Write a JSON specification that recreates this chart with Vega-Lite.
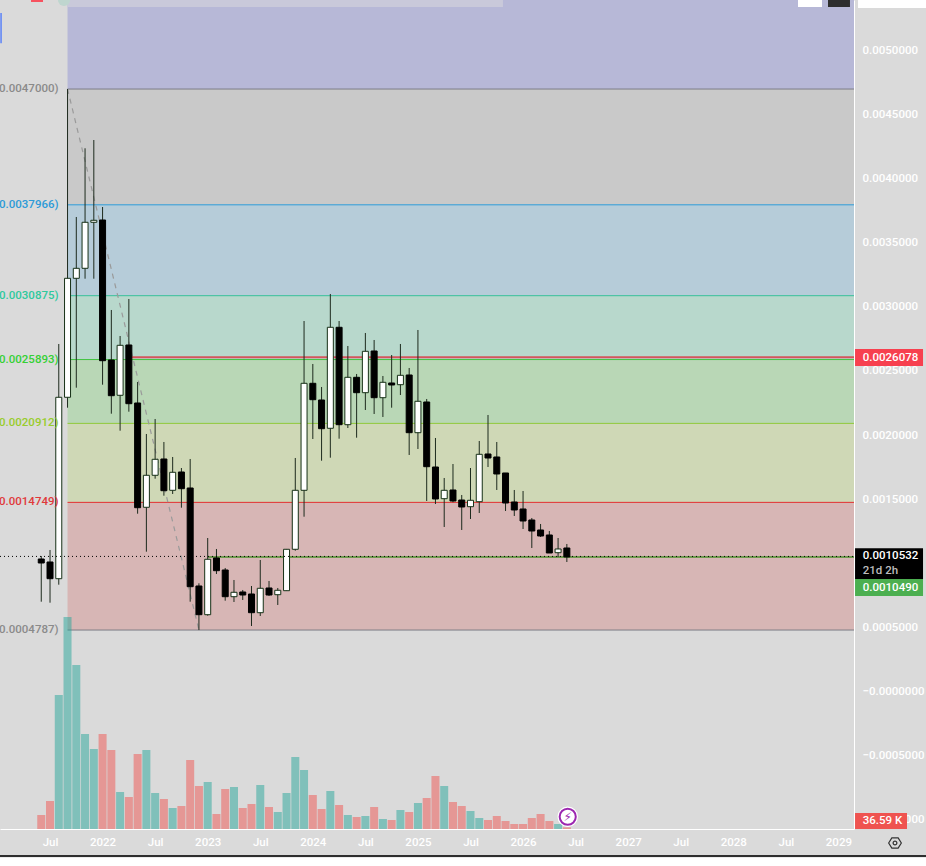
{"$schema":"https://vega.github.io/schema/vega-lite/v6.json","autosize":{"type":"none"},"width":854,"height":829,"padding":{"left":0,"top":0,"right":72,"bottom":37},"background":"#dadada","config":{"view":{"stroke":null},"text":{"font":"Roboto"},"axis":{"labelFont":"Roboto"}},
"datasets":{
"candles":[
{"month":"2021-06","t":-1,"open":0.0010331,"high":0.0010565,"low":0.0006999,"close":0.0010019,"dir":"down","volume":301000},
{"month":"2021-07","t":0,"open":0.0010097,"high":0.0011033,"low":0.0006921,"close":0.0008794,"dir":"down","volume":602000},
{"month":"2021-08","t":1,"open":0.0008794,"high":0.0027107,"low":0.0008326,"close":0.0022948,"dir":"up","volume":2881000},
{"month":"2021-09","t":2,"open":0.0022948,"high":0.0047000,"low":0.0022136,"close":0.0032233,"dir":"up","volume":4558000},
{"month":"2021-10","t":3,"open":0.0032233,"high":0.0037016,"low":0.0023697,"close":0.0033013,"dir":"up","volume":3526000},
{"month":"2021-11","t":4,"open":0.0033013,"high":0.0042377,"low":0.0032202,"close":0.0036603,"dir":"up","volume":2042500},
{"month":"2021-12","t":5,"open":0.0036603,"high":0.0043024,"low":0.0032202,"close":0.0036759,"dir":"up","volume":1720000},
{"month":"2022-01","t":6,"open":0.0036782,"high":0.0037796,"low":0.0023931,"close":0.0025804,"dir":"down","volume":2042500},
{"month":"2022-02","t":7,"open":0.0025858,"high":0.0029760,"low":0.0021668,"close":0.0023073,"dir":"down","volume":1698500},
{"month":"2022-03","t":8,"open":0.0023104,"high":0.0027731,"low":0.0020342,"close":0.0027005,"dir":"up","volume":795500},
{"month":"2022-04","t":9,"open":0.0027029,"high":0.0030618,"low":0.0021824,"close":0.0022449,"dir":"down","volume":688000},
{"month":"2022-05","t":10,"open":0.0022503,"high":0.0024142,"low":0.0013866,"close":0.0014334,"dir":"down","volume":1612500},
{"month":"2022-06","t":11,"open":0.0014365,"high":0.0020084,"low":0.0010901,"close":0.0016862,"dir":"up","volume":1698500},
{"month":"2022-07","t":12,"open":0.0016862,"high":0.0021255,"low":0.0016596,"close":0.0018110,"dir":"up","volume":774000},
{"month":"2022-08","t":13,"open":0.0018134,"high":0.0019460,"low":0.0015270,"close":0.0015660,"dir":"down","volume":645000},
{"month":"2022-09","t":14,"open":0.0015691,"high":0.0018290,"low":0.0015403,"close":0.0017096,"dir":"up","volume":451500},
{"month":"2022-10","t":15,"open":0.0017119,"high":0.0017431,"low":0.0014334,"close":0.0015816,"dir":"down","volume":494500},
{"month":"2022-11","t":16,"open":0.0015871,"high":0.0018134,"low":0.0006999,"close":0.0008170,"dir":"down","volume":1483500},
{"month":"2022-12","t":17,"open":0.0008224,"high":0.0008435,"low":0.0004787,"close":0.0005985,"dir":"down","volume":924500},
{"month":"2023-01","t":18,"open":0.0005985,"high":0.0011969,"low":0.0005907,"close":0.0010308,"dir":"up","volume":1010500},
{"month":"2023-02","t":19,"open":0.0010409,"high":0.0011111,"low":0.0009161,"close":0.0009418,"dir":"down","volume":322500},
{"month":"2023-03","t":20,"open":0.0009473,"high":0.0009629,"low":0.0007077,"close":0.0007389,"dir":"down","volume":860000},
{"month":"2023-04","t":21,"open":0.0007389,"high":0.0008692,"low":0.0006976,"close":0.0007733,"dir":"up","volume":903000},
{"month":"2023-05","t":22,"open":0.0007756,"high":0.0007912,"low":0.0007132,"close":0.0007522,"dir":"down","volume":451500},
{"month":"2023-06","t":23,"open":0.0007600,"high":0.0008224,"low":0.0005103,"close":0.0006141,"dir":"down","volume":537500},
{"month":"2023-07","t":24,"open":0.0006141,"high":0.0010253,"low":0.0005883,"close":0.0008045,"dir":"up","volume":946000},
{"month":"2023-08","t":25,"open":0.0008068,"high":0.0008614,"low":0.0007444,"close":0.0007522,"dir":"down","volume":473000},
{"month":"2023-09","t":26,"open":0.0007545,"high":0.0008068,"low":0.0006742,"close":0.0007889,"dir":"up","volume":365500},
{"month":"2023-10","t":27,"open":0.0007857,"high":0.0011111,"low":0.0007834,"close":0.0011088,"dir":"up","volume":774000},
{"month":"2023-11","t":28,"open":0.0011088,"high":0.0018212,"low":0.0010979,"close":0.0015691,"dir":"up","volume":1548000},
{"month":"2023-12","t":29,"open":0.0015691,"high":0.0028901,"low":0.0013632,"close":0.0024040,"dir":"up","volume":1268500},
{"month":"2024-01","t":30,"open":0.0024040,"high":0.0025546,"low":0.0019694,"close":0.0022761,"dir":"down","volume":731000},
{"month":"2024-02","t":31,"open":0.0022737,"high":0.0023752,"low":0.0018001,"close":0.0020498,"dir":"down","volume":430000},
{"month":"2024-03","t":32,"open":0.0020529,"high":0.0031008,"low":0.0018235,"close":0.0028410,"dir":"up","volume":817000},
{"month":"2024-04","t":33,"open":0.0028410,"high":0.0028901,"low":0.0019718,"close":0.0020810,"dir":"down","volume":516000},
{"month":"2024-05","t":34,"open":0.0020810,"high":0.0026951,"low":0.0020552,"close":0.0024508,"dir":"up","volume":301000},
{"month":"2024-06","t":35,"open":0.0024508,"high":0.0024766,"low":0.0019796,"close":0.0023307,"dir":"down","volume":258000},
{"month":"2024-07","t":36,"open":0.0023307,"high":0.0027965,"low":0.0021957,"close":0.0026537,"dir":"up","volume":279500},
{"month":"2024-08","t":37,"open":0.0026561,"high":0.0027419,"low":0.0021645,"close":0.0022917,"dir":"down","volume":473000},
{"month":"2024-09","t":38,"open":0.0022917,"high":0.0024610,"low":0.0021411,"close":0.0024118,"dir":"up","volume":215000},
{"month":"2024-10","t":39,"open":0.0024064,"high":0.0026248,"low":0.0022136,"close":0.0023908,"dir":"down","volume":193500},
{"month":"2024-11","t":40,"open":0.0023931,"high":0.0027107,"low":0.0023127,"close":0.0024664,"dir":"up","volume":408500},
{"month":"2024-12","t":41,"open":0.0024688,"high":0.0025234,"low":0.0018446,"close":0.0020186,"dir":"down","volume":365500},
{"month":"2025-01","t":42,"open":0.0020186,"high":0.0028199,"low":0.0018914,"close":0.0022636,"dir":"up","volume":559000},
{"month":"2025-02","t":43,"open":0.0022581,"high":0.0022815,"low":0.0014856,"close":0.0017533,"dir":"down","volume":666500},
{"month":"2025-03","t":44,"open":0.0017509,"high":0.0019772,"low":0.0014622,"close":0.0015013,"dir":"down","volume":1139500},
{"month":"2025-04","t":45,"open":0.0015036,"high":0.0016651,"low":0.0012828,"close":0.0015691,"dir":"up","volume":924500},
{"month":"2025-05","t":46,"open":0.0015715,"high":0.0017743,"low":0.0014755,"close":0.0014856,"dir":"down","volume":580500},
{"month":"2025-06","t":47,"open":0.0014934,"high":0.0015325,"low":0.0012594,"close":0.0014388,"dir":"down","volume":494500},
{"month":"2025-07","t":48,"open":0.0014412,"high":0.0017431,"low":0.0013452,"close":0.0014911,"dir":"up","volume":387000},
{"month":"2025-08","t":49,"open":0.0014802,"high":0.0019538,"low":0.0013920,"close":0.0018500,"dir":"up","volume":236500},
{"month":"2025-09","t":50,"open":0.0018524,"high":0.0021567,"low":0.0017509,"close":0.0018212,"dir":"down","volume":193500},
{"month":"2025-10","t":51,"open":0.0018290,"high":0.0019460,"low":0.0015715,"close":0.0016963,"dir":"down","volume":279500},
{"month":"2025-11","t":52,"open":0.0017041,"high":0.0017041,"low":0.0014076,"close":0.0014700,"dir":"down","volume":172000},
{"month":"2025-12","t":53,"open":0.0014778,"high":0.0015715,"low":0.0013686,"close":0.0014154,"dir":"down","volume":107500},
{"month":"2026-01","t":54,"open":0.0014232,"high":0.0015637,"low":0.0012672,"close":0.0013296,"dir":"down","volume":107500},
{"month":"2026-02","t":55,"open":0.0013374,"high":0.0013530,"low":0.0011189,"close":0.0012516,"dir":"down","volume":236500},
{"month":"2026-03","t":56,"open":0.0012594,"high":0.0013062,"low":0.0012048,"close":0.0012126,"dir":"down","volume":322500},
{"month":"2026-04","t":57,"open":0.0012204,"high":0.0012516,"low":0.0010799,"close":0.0010799,"dir":"down","volume":172000},
{"month":"2026-05","t":58,"open":0.0010822,"high":0.0011969,"low":0.0010487,"close":0.0011111,"dir":"up","volume":107500},
{"month":"2026-06","t":59,"open":0.0011189,"high":0.0011501,"low":0.0010097,"close":0.0010490,"dir":"down","volume":36590}
],
"zones":[
{"level":"0.0047000)","top":0.0053948,"bottom":0.0047000,"t0":2,"t1":91.78},
{"level":"0.0037966)","top":0.0047000,"bottom":0.0037966,"t0":2,"t1":91.78},
{"level":"0.0030875)","top":0.0037966,"bottom":0.0030875,"t0":2,"t1":91.78},
{"level":"0.0025893)","top":0.0030875,"bottom":0.0025893,"t0":2,"t1":91.78},
{"level":"0.0020912)","top":0.0025893,"bottom":0.0020912,"t0":2,"t1":91.78},
{"level":"0.0014749)","top":0.0020912,"bottom":0.0014749,"t0":2,"t1":91.78},
{"level":"0.0004787)","top":0.0014749,"bottom":0.0004787,"t0":2,"t1":91.78}
],
"levels":[
{"level":"0.0047000)","price":0.0047000,"t0":2,"t1":91.78},
{"level":"0.0037966)","price":0.0037966,"t0":2,"t1":91.78},
{"level":"0.0030875)","price":0.0030875,"t0":2,"t1":91.78},
{"level":"0.0025893)","price":0.0025893,"t0":2,"t1":91.78},
{"level":"0.0020912)","price":0.0020912,"t0":2,"t1":91.78},
{"level":"0.0014749)","price":0.0014749,"t0":2,"t1":91.78},
{"level":"0.0004787)","price":0.0004787,"t0":2,"t1":91.78}
],
"tags":[
{"name":"high","top":0.0026717,"bottom":0.0025390,"t0":91.9,"t1":99.66},
{"name":"last","top":0.0011166,"bottom":0.0008770,"t0":91.9,"t1":99.66},
{"name":"bid","top":0.0008770,"bottom":0.0007444,"t0":91.9,"t1":99.66},
{"name":"vol","top":-0.0009488,"bottom":-0.0010737,"t0":91.9,"t1":97.83}
],
"tagText":[
{"name":"white","label":"0.0026078","price":0.0026053,"t":92.78},
{"name":"white","label":"0.0010532","price":0.0010532,"t":92.78},
{"name":"grey","label":"21d 2h","price":0.0009395,"t":92.78},
{"name":"white","label":"0.0010490","price":0.0008092,"t":92.78},
{"name":"white","label":"36.59 K","price":-0.0010112,"t":92.78}
],
"decor":[
{"name":"strip","top":0.0053948,"bottom":0.0053402,"t0":1.94,"t1":51.71},
{"name":"btnA","top":0.0053948,"bottom":0.0053402,"t0":85.39,"t1":88.13},
{"name":"btnB","top":0.0053948,"bottom":0.0053402,"t0":88.81,"t1":91.32},
{"name":"btnA","top":0.0053948,"bottom":0.0053324,"t0":92.24,"t1":100},
{"name":"red","top":0.0053948,"bottom":0.0053792,"t0":-2.17,"t1":-0.8},
{"name":"bar","top":-0.0012765,"bottom":-0.0012945,"t0":-6,"t1":100},
{"name":"btnA","top":-0.0012945,"bottom":-0.0014000,"t0":-6,"t1":100}
]
},
"layer":[
{"resolve":{"scale":{"fill":"independent","stroke":"independent","color":"independent"},"axis":{"x":"independent","y":"independent"}},
"layer":[
{"data":{"name":"zones"},"mark":{"type":"rect"},"encoding":{
"x":{"field":"t0","type":"quantitative","scale":{"domain":[-5.71,91.78],"nice":false,"zero":false,"padding":0},"axis":{"title":null,"orient":"bottom","values":[0,6,12,18,24,30,36,42,48,54,60,66,72,78,84,90],"labelExpr":"datum.value % 12 == 0 ? 'Jul' : format(2022 + (datum.value - 6) / 12, 'd')","grid":false,"ticks":false,"domain":true,"domainColor":"#ffffff","domainWidth":1,"labelColor":"#ffffff","labelFontSize":11.5,"labelFontWeight":500,"labelPadding":7,"labelFlush":false,"labelOverlap":false}},
"x2":{"field":"t1"},
"y":{"field":"top","type":"quantitative","scale":{"domain":[-0.0010737,0.0053948],"nice":false,"zero":false},"axis":{"title":null,"orient":"right","values":[0.005,0.0045,0.004,0.0035,0.003,0.0025,0.002,0.0015,0.0005,0,-0.0005,-0.001],"labelExpr":"(datum.value <= 0 ? '\u2212' : '') + format(abs(datum.value), '.7f')","grid":false,"ticks":false,"domain":true,"domainColor":"#ffffff","domainWidth":1,"labelColor":"#ffffff","labelFontSize":11.5,"labelFontWeight":500,"labelPadding":8,"labelAlign":"left","labelOverlap":false,"labelFlush":false}},
"y2":{"field":"bottom"},
"fill":{"field":"level","type":"nominal","legend":null,"scale":{"domain":["0.0047000)","0.0037966)","0.0030875)","0.0025893)","0.0020912)","0.0014749)","0.0004787)"],"range":["#b7b8d7","#c9c9c9","#b6ccd9","#b8d8cc","#b9d7b6","#cfd8b6","#d7b6b5"]}}
}},
{"data":{"name":"levels"},"mark":{"type":"rule","strokeWidth":1},"encoding":{
"x":{"field":"t0","type":"quantitative","axis":null,"scale":{"domain":[-5.71,91.78],"nice":false,"zero":false,"padding":0}},"x2":{"field":"t1"},
"y":{"field":"price","type":"quantitative","axis":null,"scale":{"domain":[-0.0010737,0.0053948],"nice":false,"zero":false}},
"stroke":{"field":"level","type":"nominal","legend":null,"scale":{"domain":["0.0047000)","0.0037966)","0.0030875)","0.0025893)","0.0020912)","0.0014749)","0.0004787)"],"range":["#7d7d85","#2d9bd8","#36bf9b","#3fc43f","#90c93a","#e3302f","#7d7d85"]}}
}},
{"data":{"values":[{"price":0.0047,"t":2},{"price":0.0004787,"t":17}]},"mark":{"type":"line","stroke":"#9a9a9a","strokeWidth":1.2,"strokeDash":[5,5]},"encoding":{
"x":{"field":"t","type":"quantitative","axis":null,"scale":{"domain":[-5.71,91.78],"nice":false,"zero":false,"padding":0}},
"y":{"field":"price","type":"quantitative","axis":null,"scale":{"domain":[-0.0010737,0.0053948],"nice":false,"zero":false}}
}},
{"data":{"values":[{"name":"resistance","price":0.0026078,"t0":9,"t1":91.78},{"name":"bid","price":0.001049,"t0":18,"t1":91.78}]},"mark":{"type":"rule","strokeWidth":2},"encoding":{
"x":{"field":"t0","type":"quantitative","axis":null,"scale":{"domain":[-5.71,91.78],"nice":false,"zero":false,"padding":0}},"x2":{"field":"t1"},
"y":{"field":"price","type":"quantitative","axis":null,"scale":{"domain":[-0.0010737,0.0053948],"nice":false,"zero":false}},
"stroke":{"field":"name","type":"nominal","legend":null,"scale":{"domain":["resistance","bid"],"range":["#d4555c","#6f9a4f"]}}
}},
{"data":{"name":"candles"},"mark":{"type":"rule","stroke":"#1d2a1d","strokeWidth":1},"encoding":{
"x":{"field":"t","type":"quantitative","axis":null,"scale":{"domain":[-5.71,91.78],"nice":false,"zero":false,"padding":0}},
"y":{"field":"low","type":"quantitative","axis":null,"scale":{"domain":[-0.0010737,0.0053948],"nice":false,"zero":false}},
"y2":{"field":"high"}
}},
{"data":{"name":"candles"},"mark":{"type":"bar","size":6,"strokeWidth":1,"orient":"vertical"},"encoding":{
"x":{"field":"t","type":"quantitative","axis":null,"scale":{"domain":[-5.71,91.78],"nice":false,"zero":false,"padding":0}},
"y":{"field":"open","type":"quantitative","axis":null,"scale":{"domain":[-0.0010737,0.0053948],"nice":false,"zero":false}},
"y2":{"field":"close"},
"fill":{"field":"dir","type":"nominal","legend":null,"scale":{"domain":["up","down"],"range":["#ffffff","#000000"]}},
"stroke":{"field":"dir","type":"nominal","legend":null,"scale":{"domain":["up","down"],"range":["#163016","#000000"]}}
}},
{"data":{"values":[{"price":0.0010532,"t0":-5.71,"t1":91.78}]},"mark":{"type":"rule","stroke":"#000000","strokeWidth":1,"strokeDash":[1,3]},"encoding":{
"x":{"field":"t0","type":"quantitative","axis":null,"scale":{"domain":[-5.71,91.78],"nice":false,"zero":false,"padding":0}},"x2":{"field":"t1"},
"y":{"field":"price","type":"quantitative","axis":null,"scale":{"domain":[-0.0010737,0.0053948],"nice":false,"zero":false}}
}},
{"data":{"name":"tags"},"mark":{"type":"rect"},"encoding":{
"x":{"field":"t0","type":"quantitative","axis":null,"scale":{"domain":[-5.71,91.78],"nice":false,"zero":false,"padding":0}},"x2":{"field":"t1"},
"y":{"field":"top","type":"quantitative","axis":null,"scale":{"domain":[-0.0010737,0.0053948],"nice":false,"zero":false}},"y2":{"field":"bottom"},
"fill":{"field":"name","type":"nominal","legend":null,"scale":{"domain":["high","last","bid","vol"],"range":["#f7404f","#000000","#4caf50","#ef5350"]}}
}},
{"data":{"name":"tagText"},"mark":{"type":"text","align":"left","baseline":"middle","fontSize":11.5,"fontWeight":500},"encoding":{
"x":{"field":"t","type":"quantitative","axis":null,"scale":{"domain":[-5.71,91.78],"nice":false,"zero":false,"padding":0}},
"y":{"field":"price","type":"quantitative","axis":null,"scale":{"domain":[-0.0010737,0.0053948],"nice":false,"zero":false}},
"text":{"field":"label"},
"fill":{"field":"name","type":"nominal","legend":null,"scale":{"domain":["white","grey"],"range":["#ffffff","#bdbdbd"]}}
}},
{"data":{"name":"levels"},"mark":{"type":"text","align":"right","baseline":"middle","dx":-9,"fontSize":11.5,"fontWeight":500},"encoding":{
"x":{"field":"t0","type":"quantitative","axis":null,"scale":{"domain":[-5.71,91.78],"nice":false,"zero":false,"padding":0}},
"y":{"field":"price","type":"quantitative","axis":null,"scale":{"domain":[-0.0010737,0.0053948],"nice":false,"zero":false}},
"text":{"field":"level"},
"fill":{"field":"level","type":"nominal","legend":null,"scale":{"domain":["0.0047000)","0.0037966)","0.0030875)","0.0025893)","0.0020912)","0.0014749)","0.0004787)"],"range":["#8a8a8a","#2d9bd8","#30c99d","#35d035","#98cc2c","#e0393a","#8a8a8a"]}}
}},
{"data":{"name":"decor"},"mark":{"type":"rect"},"encoding":{
"x":{"field":"t0","type":"quantitative","axis":null,"scale":{"domain":[-5.71,91.78],"nice":false,"zero":false,"padding":0}},"x2":{"field":"t1"},
"y":{"field":"top","type":"quantitative","axis":null,"scale":{"domain":[-0.0010737,0.0053948],"nice":false,"zero":false}},"y2":{"field":"bottom"},
"fill":{"field":"name","type":"nominal","legend":null,"scale":{"domain":["strip","btnA","btnB","red","bar"],"range":["#c9c9da","#ffffff","#2e2e2e","#f7525f","#2e2e2e"]}}
}},
{"data":{"values":[{"price":0.0053948,"t":1.6}]},"mark":{"type":"point","filled":true,"fill":"#bfd6cf","opacity":1,"size":150},"encoding":{
"x":{"field":"t","type":"quantitative","axis":null,"scale":{"domain":[-5.71,91.78],"nice":false,"zero":false,"padding":0}},
"y":{"field":"price","type":"quantitative","axis":null,"scale":{"domain":[-0.0010737,0.0053948],"nice":false,"zero":false}}
}},
{"data":{"values":[{"top":0.0052932,"bottom":0.0050583,"t":-5.59}]},"mark":{"type":"rule","stroke":"#3b6cff","strokeWidth":1.2},"encoding":{
"x":{"field":"t","type":"quantitative","axis":null,"scale":{"domain":[-5.71,91.78],"nice":false,"zero":false,"padding":0}},
"y":{"field":"top","type":"quantitative","axis":null,"scale":{"domain":[-0.0010737,0.0053948],"nice":false,"zero":false}},"y2":{"field":"bottom"}
}},
{"data":{"values":[{"price":-0.0011829,"t":96.46}]},"mark":{"type":"point","shape":"M-1,0L-0.5,-0.8L0.5,-0.8L1,0L0.5,0.8L-0.5,0.8Z","stroke":"#333333","strokeWidth":1.2,"fill":"transparent","opacity":1,"size":160},"encoding":{
"x":{"field":"t","type":"quantitative","axis":null,"scale":{"domain":[-5.71,91.78],"nice":false,"zero":false,"padding":0}},
"y":{"field":"price","type":"quantitative","axis":null,"scale":{"domain":[-0.0010737,0.0053948],"nice":false,"zero":false}}
}},
{"data":{"values":[{"price":-0.0011829,"t":96.46}]},"mark":{"type":"point","shape":"circle","stroke":"#333333","strokeWidth":1.2,"fill":"transparent","opacity":1,"size":14},"encoding":{
"x":{"field":"t","type":"quantitative","axis":null,"scale":{"domain":[-5.71,91.78],"nice":false,"zero":false,"padding":0}},
"y":{"field":"price","type":"quantitative","axis":null,"scale":{"domain":[-0.0010737,0.0053948],"nice":false,"zero":false}}
}}
]},
{"layer":[
{"data":{"name":"candles"},"mark":{"type":"bar","size":8,"opacity":0.5,"orient":"vertical"},"encoding":{
"x":{"field":"t","type":"quantitative","axis":null,"scale":{"domain":[-5.71,91.78],"nice":false,"zero":false,"padding":0}},
"y":{"field":"volume","type":"quantitative","axis":null,"scale":{"domain":[0,17823500],"nice":false,"zero":true}},
"color":{"field":"dir","type":"nominal","legend":null,"scale":{"domain":["up","down"],"range":["#26a69a","#ef5350"]}}
}},
{"data":{"values":[{"t":59.1,"volume":264000}]},"mark":{"type":"point","filled":true,"fill":"#ffffff","opacity":1,"size":420},"encoding":{
"x":{"field":"t","type":"quantitative","axis":null,"scale":{"domain":[-5.71,91.78],"nice":false,"zero":false,"padding":0}},
"y":{"field":"volume","type":"quantitative","axis":null,"scale":{"domain":[0,17823500],"nice":false,"zero":true}}
}},
{"data":{"values":[{"t":59.1,"volume":264000}]},"mark":{"type":"point","fill":"#ffffff","stroke":"#9c27b0","strokeWidth":2,"opacity":1,"size":260},"encoding":{
"x":{"field":"t","type":"quantitative","axis":null,"scale":{"domain":[-5.71,91.78],"nice":false,"zero":false,"padding":0}},
"y":{"field":"volume","type":"quantitative","axis":null,"scale":{"domain":[0,17823500],"nice":false,"zero":true}}
}},
{"data":{"values":[{"t":59.1,"volume":264000,"label":"\u26a1"}]},"mark":{"type":"text","font":"DejaVu Sans","fontSize":12,"fill":"#9c27b0","align":"center","baseline":"middle"},"encoding":{
"x":{"field":"t","type":"quantitative","axis":null,"scale":{"domain":[-5.71,91.78],"nice":false,"zero":false,"padding":0}},
"y":{"field":"volume","type":"quantitative","axis":null,"scale":{"domain":[0,17823500],"nice":false,"zero":true}},
"text":{"field":"label"}
}}
]}
],
"resolve":{"scale":{"y":"independent"},"axis":{"x":"independent","y":"independent"}}
}
